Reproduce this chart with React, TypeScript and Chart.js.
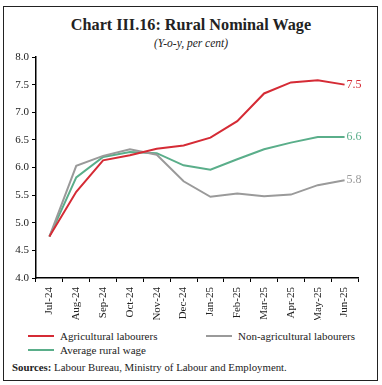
import React, { useEffect, useRef } from "react";
import { Chart, registerables } from "chart.js";

Chart.register(...registerables);

const categories = ["Jul-24", "Aug-24", "Sep-24", "Oct-24", "Nov-24", "Dec-24", "Jan-25", "Feb-25", "Mar-25", "Apr-25", "May-25", "Jun-25"];
const agricultural = [4.75, 5.56, 6.13, 6.22, 6.34, 6.4, 6.54, 6.84, 7.34, 7.54, 7.58, 7.5];
const nonAgricultural = [4.75, 6.03, 6.21, 6.33, 6.23, 5.75, 5.47, 5.53, 5.48, 5.51, 5.68, 5.77];
const averageRural = [4.75, 5.82, 6.19, 6.28, 6.26, 6.04, 5.96, 6.15, 6.33, 6.45, 6.55, 6.55];
const endLabels = ["7.5", "5.8", "6.6"];

const RED = "#d52b35";
const GRAY = "#9a9a9a";
const GREEN = "#5aae8a";
const FONT = "'Liberation Serif', 'DejaVu Serif', serif";

const endLabelPlugin = {
  id: "endLabels",
  afterDatasetsDraw(chart: any) {
    const ctx = chart.ctx;
    ctx.save();
    ctx.font = `12px ${FONT}`;
    ctx.textBaseline = "middle";
    ctx.textAlign = "left";
    chart.data.datasets.forEach((ds: any, i: number) => {
      const meta = chart.getDatasetMeta(i);
      const pt = meta.data[meta.data.length - 1];
      ctx.fillStyle = ds.borderColor;
      ctx.fillText(endLabels[i], pt.x + 2, pt.y);
    });
    ctx.restore();
  },
};

export default function App() {
  const ref = useRef<HTMLCanvasElement>(null);
  useEffect(() => {
    const chart = new Chart(ref.current!, {
      type: "line",
      data: {
        labels: categories,
        datasets: [
          { label: "Agricultural labourers", data: agricultural, borderColor: RED, backgroundColor: RED, borderWidth: 2, pointRadius: 0, tension: 0 },
          { label: "Non-agricultural labourers", data: nonAgricultural, borderColor: GRAY, backgroundColor: GRAY, borderWidth: 2, pointRadius: 0, tension: 0 },
          { label: "Average rural wage", data: averageRural, borderColor: GREEN, backgroundColor: GREEN, borderWidth: 2, pointRadius: 0, tension: 0 },
        ],
      },
      options: {
        animation: false,
        responsive: false,
        maintainAspectRatio: false,
        layout: { padding: { top: 12, right: 20, left: 0, bottom: 0 } },
        plugins: { legend: { display: false }, tooltip: { enabled: false } },
        scales: {
          x: {
            type: "category",
            offset: true,
            grid: { display: true, drawOnChartArea: false, drawTicks: true, tickLength: 4, color: "#000", offset: true },
            border: { color: "#000", width: 1.5 },
            ticks: { minRotation: 90, maxRotation: 90, autoSkip: false, color: "#222", font: { family: FONT, size: 11 }, padding: 5 },
            afterFit(scale: any) { scale.height = 42; },
          },
          y: {
            min: 4,
            max: 8,
            grid: { display: true, drawOnChartArea: false, drawTicks: true, tickLength: 4, color: "#000" },
            border: { color: "#000", width: 1.5 },
            ticks: { stepSize: 0.5, color: "#222", font: { family: FONT, size: 11 }, padding: 3, callback: (v: any) => Number(v).toFixed(1) },
            afterFit(scale: any) { scale.width = 32; },
          },
        },
      },
      plugins: [endLabelPlugin],
    });
    return () => chart.destroy();
  }, []);

  const legendItem = (color: string, text: string, left: number, top: number) => (
    <div style={{ position: "absolute", left, top, display: "flex", alignItems: "center", fontFamily: FONT, fontSize: 11, color: "#222", whiteSpace: "nowrap" }}>
      <span style={{ display: "inline-block", width: 26, height: 2, background: color, marginRight: 6 }} />
      {text}
    </div>
  );

  return (
    <div style={{ position: "absolute", left: 0, top: 0, width: 382, height: 385, background: "#fff" }}>
      <div style={{ position: "absolute", left: 3, top: 6, width: 373, height: 373, border: "1.5px solid #222" }} />
      <div style={{ position: "absolute", left: 0, top: 16, width: 382, textAlign: "center", fontFamily: FONT, fontWeight: "bold", fontSize: 16.2, color: "#222" }}>
        Chart III.16: Rural Nominal Wage
      </div>
      <div style={{ position: "absolute", left: 0, top: 37, width: 382, textAlign: "center", fontFamily: FONT, fontStyle: "italic", fontSize: 11.5, color: "#222" }}>
        (Y-o-y, per cent)
      </div>
      <canvas ref={ref} width={374} height={275} style={{ position: "absolute", left: 4, top: 45, width: 374, height: 275 }} />
      {legendItem(RED, "Agricultural labourers", 28, 330)}
      {legendItem(GRAY, "Non-agricultural labourers", 206, 330)}
      {legendItem(GREEN, "Average rural wage", 28, 344)}
      <div style={{ position: "absolute", left: 12, top: 361, fontFamily: FONT, fontSize: 10.8, color: "#222", whiteSpace: "nowrap" }}>
        <b>Sources:</b> Labour Bureau, Ministry of Labour and Employment.
      </div>
    </div>
  );
}
